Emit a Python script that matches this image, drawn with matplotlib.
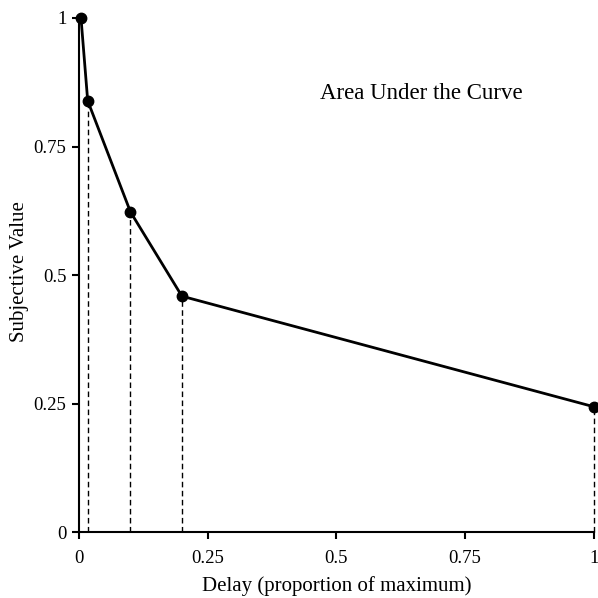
import matplotlib
matplotlib.use('Agg')
import matplotlib.pyplot as plt

# delay (proportion of max) and subjective value at each point
delay = [0.004, 0.017, 0.1, 0.2, 1.0]
value = [1.0, 0.839, 0.623, 0.459, 0.244]
xticks = [0, 0.25, 0.5, 0.75, 1]
xtick_labels = ['0', '0.25', '0.5', '0.75', '1']
yticks = [0, 0.25, 0.5, 0.75, 1]
ytick_labels = ['0', '0.25', '0.5', '0.75', '1']

plt.rcParams['font.family'] = ['Liberation Serif', 'DejaVu Serif']

fig = plt.figure(figsize=(5.98, 5.98), dpi=100)
ax = fig.add_axes([0.132, 0.110, 0.861, 0.860])

# dashed drop lines under each point except the first
ax.vlines(delay[1:], 0, value[1:], colors='black', linestyles=(0, (4, 2.5)),
          linewidth=1, clip_on=False)
ax.plot(delay, value, 'k-', linewidth=2, marker='o', markersize=7.5, clip_on=False, zorder=3)

ax.set_xlim(0, 1)
ax.set_ylim(0, 1)
ax.set_xticks(xticks)
ax.set_xticklabels(xtick_labels)
ax.set_yticks(yticks)
ax.set_yticklabels(ytick_labels)
ax.spines['top'].set_visible(False)
ax.spines['right'].set_visible(False)
ax.spines['left'].set_linewidth(1.5)
ax.spines['bottom'].set_linewidth(1.5)
ax.tick_params(direction='out', length=5, width=1.5, labelsize=13.5)
ax.tick_params(axis='x', pad=8)
ax.tick_params(axis='y', pad=4)

ax.set_xlabel('Delay (proportion of maximum)', fontsize=15)
ax.xaxis.set_label_coords(0.5, -0.105)
ax.set_ylabel('Subjective Value', fontsize=15)
ax.yaxis.set_label_coords(-0.115, 0.506)
ax.yaxis.label.set_va('center')
ax.xaxis.label.set_va('center')
ax.text(0.664, 0.854, 'Area Under the Curve', fontsize=16.5, ha='center', va='center',
        transform=ax.transAxes)

fig.savefig('out.png', dpi=100)
